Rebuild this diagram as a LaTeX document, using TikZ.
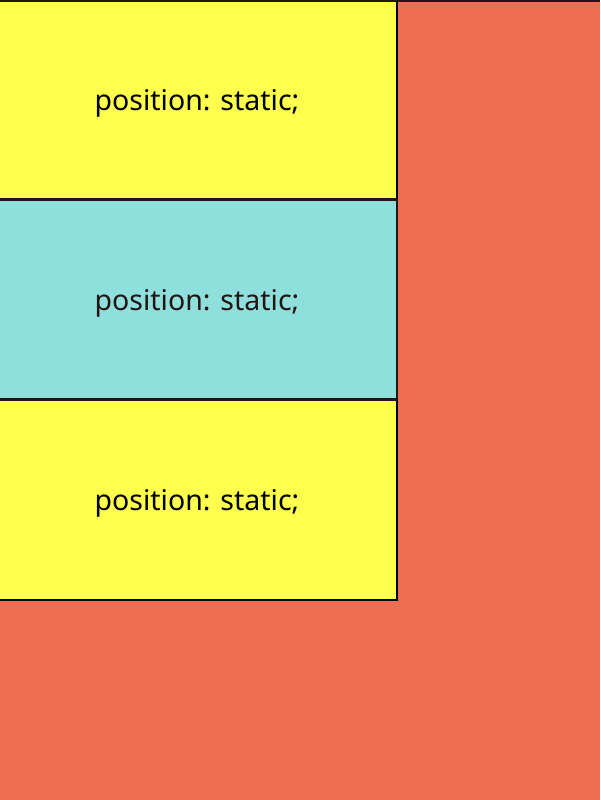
\documentclass[tikz,border=0pt]{standalone}
\usepackage{fontspec}
\setmainfont{Noto Sans}
\usetikzlibrary{positioning}
\definecolor{pagebg}{HTML}{EE6E53}
\definecolor{boxyellow}{HTML}{FFFF4D}
\definecolor{boxcyan}{HTML}{8FE0DC}
\definecolor{edgedark}{HTML}{231515}
\newcommand{\statictext}{\raisebox{-3pt}[\height][\depth]{position: static;}}
\tikzset{%
  staticbox/.style = {shape=rectangle, draw=black, line width=2pt,%
                      minimum width=400pt, minimum height=200pt,%
                      inner sep=0pt, outer sep=0pt, align=center,%
                      font=\fontsize{28.5}{33}\selectfont},%
  yellowbox/.style = {staticbox, fill=boxyellow, text=black},%
  cyanbox/.style   = {staticbox, fill=boxcyan, text=edgedark, draw=edgedark},%
  seam/.style      = {edgedark, line width=3pt}%
}
\begin{document}
\begin{tikzpicture}[x=1pt,y=1pt]
	\fill[pagebg] (0,0) rectangle (600,800);
	\useasboundingbox (0,0) rectangle (600,800);
	% three static boxes, stacked
	\node[yellowbox, anchor=north east] (first) at (397,800) {\statictext};
	\node[cyanbox, below=0pt of first] (second) {\statictext};
	\node[yellowbox, below=0pt of second] (third) {\statictext};
	% borders where the boxes meet
	\draw[seam] (first.south west) -- (first.south east);
	\draw[seam] (second.south west) -- (second.south east);
	% dark top edge of the page
	\coordinate (topleft) at (0,799);
	\coordinate (topright) at (600,799);
	\draw[edgedark, line width=2pt] (topleft) -- (topright);
\end{tikzpicture}
\end{document}
